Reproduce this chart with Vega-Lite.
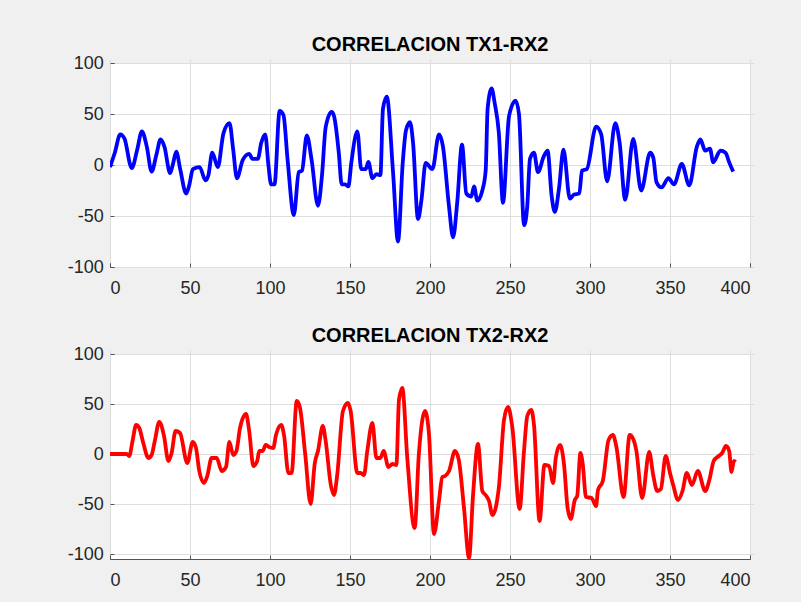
{
  "$schema": "https://vega.github.io/schema/vega-lite/v6.json",
  "background": "#f0f0f0",
  "padding": {"left": 66, "top": 34, "right": 50, "bottom": 40},
  "spacing": 27,
  "config": {
    "font": "Liberation Sans",
    "view": {"stroke": "#555555", "strokeWidth": 1, "fill": "white"},
    "axis": {
      "domain": false,
      "grid": true,
      "gridColor": "#dedede",
      "gridWidth": 1,
      "ticks": true,
      "tickColor": "#555555",
      "tickSize": 4,
      "offset": -4,
      "labelFontSize": 18,
      "labelColor": "#262626",
      "labelFont": "Liberation Sans",
      "labelExpr": "datum.value + ''",
      "title": null
    },
    "axisX": {"labelPadding": 12.5},
    "axisY": {"labelPadding": 6.7},
    "title": {"fontSize": 20, "fontWeight": "bold", "color": "#000000", "font": "Liberation Sans", "offset": -1}
  },
  "datasets": {
    "tx1": [
      {"x": 0, "y": -2}, {"x": 3, "y": 12}, {"x": 6.4, "y": 30}, {"x": 9, "y": 26}, {"x": 13.6, "y": -3},
      {"x": 17, "y": 15}, {"x": 19.9, "y": 33}, {"x": 23, "y": 18}, {"x": 26, "y": -6.5}, {"x": 29, "y": 10},
      {"x": 31.6, "y": 25}, {"x": 34, "y": 18}, {"x": 37.6, "y": -8}, {"x": 39.5, "y": 2}, {"x": 41.4, "y": 13},
      {"x": 44, "y": -5}, {"x": 47.6, "y": -28}, {"x": 49.5, "y": -20}, {"x": 51.8, "y": -4}, {"x": 56, "y": -2},
      {"x": 59.7, "y": -15}, {"x": 61.5, "y": -10}, {"x": 63.9, "y": 12}, {"x": 67.4, "y": -2}, {"x": 70.9, "y": 31},
      {"x": 74.7, "y": 41}, {"x": 77, "y": 15}, {"x": 79.3, "y": -13}, {"x": 83, "y": 5}, {"x": 87, "y": 11},
      {"x": 89, "y": 6}, {"x": 92.4, "y": 6}, {"x": 94.5, "y": 21.5}, {"x": 97, "y": 30}, {"x": 99, "y": 0},
      {"x": 100.7, "y": -19}, {"x": 102.8, "y": -19}, {"x": 106, "y": 53}, {"x": 108.4, "y": 49}, {"x": 111, "y": 5},
      {"x": 114.9, "y": -49}, {"x": 118, "y": -7}, {"x": 120, "y": -5.5}, {"x": 123, "y": 29}, {"x": 126, "y": 5},
      {"x": 130, "y": -40}, {"x": 132.5, "y": -10}, {"x": 134.8, "y": 37}, {"x": 138.5, "y": 52}, {"x": 140, "y": 48},
      {"x": 143, "y": 12}, {"x": 144.8, "y": -19}, {"x": 147, "y": -19}, {"x": 149, "y": -21}, {"x": 150.8, "y": 2},
      {"x": 154.6, "y": 33}, {"x": 157, "y": -4}, {"x": 159.8, "y": -4}, {"x": 161.5, "y": 3}, {"x": 164, "y": -13},
      {"x": 166.5, "y": -9}, {"x": 169, "y": -10}, {"x": 170.6, "y": 55}, {"x": 173, "y": 67}, {"x": 176.9, "y": -7},
      {"x": 180, "y": -75}, {"x": 183, "y": 3}, {"x": 185, "y": 34}, {"x": 187.5, "y": 42}, {"x": 189.4, "y": 22},
      {"x": 192.5, "y": -53}, {"x": 194.6, "y": -35}, {"x": 197.3, "y": 2}, {"x": 201.5, "y": -4}, {"x": 205.6, "y": 30},
      {"x": 208, "y": 19}, {"x": 211.9, "y": -41}, {"x": 214.4, "y": -71}, {"x": 217, "y": -37}, {"x": 220, "y": 20},
      {"x": 222.7, "y": -28}, {"x": 225.8, "y": -31}, {"x": 227.5, "y": -21}, {"x": 229.6, "y": -35}, {"x": 232.7, "y": -25},
      {"x": 234.8, "y": -5.5}, {"x": 236, "y": 55}, {"x": 238.5, "y": 75}, {"x": 240.4, "y": 61}, {"x": 243, "y": 32},
      {"x": 245.6, "y": -37}, {"x": 249.4, "y": 48}, {"x": 253.5, "y": 63}, {"x": 255.6, "y": 50}, {"x": 258.8, "y": -59},
      {"x": 260.8, "y": -40}, {"x": 262.5, "y": 6}, {"x": 265, "y": 12}, {"x": 267.5, "y": -7}, {"x": 271, "y": 8},
      {"x": 273.5, "y": 14}, {"x": 276, "y": -30}, {"x": 278, "y": -46}, {"x": 280.7, "y": -22}, {"x": 283.4, "y": 15},
      {"x": 287.4, "y": -33}, {"x": 290, "y": -29}, {"x": 293.3, "y": -28}, {"x": 295, "y": -5.5}, {"x": 298, "y": -4},
      {"x": 303.8, "y": 37.6}, {"x": 307, "y": 30}, {"x": 310.7, "y": -16}, {"x": 315.8, "y": 41}, {"x": 318.5, "y": 22},
      {"x": 322, "y": -34}, {"x": 327, "y": 25.5}, {"x": 332, "y": -25}, {"x": 337.6, "y": 12}, {"x": 339.5, "y": 7.5},
      {"x": 341.6, "y": -17}, {"x": 344.7, "y": -22}, {"x": 349, "y": -13}, {"x": 352.5, "y": -19}, {"x": 357.4, "y": 1},
      {"x": 362, "y": -20}, {"x": 366.8, "y": 18}, {"x": 369, "y": 25}, {"x": 372, "y": 14}, {"x": 375, "y": 16},
      {"x": 377, "y": 2.6}, {"x": 381.5, "y": 14}, {"x": 384.7, "y": 12}, {"x": 387, "y": 2.6}, {"x": 389.5, "y": -6.5}
    ],
    "tx2": [
      {"x": 0, "y": 0}, {"x": 10.4, "y": 0}, {"x": 12, "y": -2}, {"x": 14.2, "y": 14}, {"x": 16.3, "y": 29},
      {"x": 18.3, "y": 26}, {"x": 20.8, "y": 11}, {"x": 24, "y": -4}, {"x": 26, "y": -1}, {"x": 28, "y": 13},
      {"x": 30.8, "y": 32}, {"x": 33.75, "y": 18}, {"x": 36.5, "y": -7}, {"x": 38.5, "y": 1}, {"x": 41, "y": 23},
      {"x": 43.75, "y": 21}, {"x": 48.3, "y": -9}, {"x": 51.7, "y": 12}, {"x": 53.75, "y": 6}, {"x": 55.8, "y": -17},
      {"x": 58.75, "y": -29}, {"x": 60.8, "y": -22}, {"x": 63.5, "y": -4}, {"x": 66.7, "y": -4}, {"x": 69.8, "y": -17},
      {"x": 72.5, "y": -13}, {"x": 74.6, "y": 12}, {"x": 77, "y": -1}, {"x": 79, "y": 3}, {"x": 81.25, "y": 26},
      {"x": 85, "y": 40}, {"x": 87, "y": 23}, {"x": 89.6, "y": -12}, {"x": 92, "y": -7}, {"x": 93.3, "y": 3},
      {"x": 95.4, "y": 3}, {"x": 97.3, "y": 9}, {"x": 99.4, "y": 7}, {"x": 102, "y": 6}, {"x": 103.75, "y": 19},
      {"x": 107, "y": 29}, {"x": 108.75, "y": 19}, {"x": 111.5, "y": -19}, {"x": 113.5, "y": -19}, {"x": 116.7, "y": 53},
      {"x": 118.75, "y": 46}, {"x": 122, "y": 0}, {"x": 125.4, "y": -50}, {"x": 128, "y": -9}, {"x": 130, "y": 3},
      {"x": 133, "y": 28}, {"x": 134.8, "y": 13}, {"x": 138, "y": -31}, {"x": 140, "y": -41}, {"x": 142, "y": -21},
      {"x": 145.6, "y": 43}, {"x": 148.75, "y": 51}, {"x": 150.4, "y": 43}, {"x": 154.6, "y": -19}, {"x": 156.7, "y": -19},
      {"x": 158.75, "y": -21}, {"x": 160.8, "y": 3}, {"x": 164, "y": 31}, {"x": 166.5, "y": -4}, {"x": 169, "y": -4},
      {"x": 171, "y": 3}, {"x": 174, "y": -13}, {"x": 176.5, "y": -10}, {"x": 179, "y": -11}, {"x": 180.6, "y": 54},
      {"x": 182.7, "y": 66}, {"x": 185.8, "y": -4}, {"x": 190.4, "y": -74}, {"x": 193, "y": -1}, {"x": 195.2, "y": 34},
      {"x": 196.9, "y": 43}, {"x": 199.4, "y": 19}, {"x": 202.5, "y": -80}, {"x": 205.6, "y": -47}, {"x": 207.7, "y": -23},
      {"x": 209.4, "y": -22}, {"x": 211.9, "y": -17}, {"x": 215.6, "y": 3}, {"x": 218, "y": -6}, {"x": 221.25, "y": -54},
      {"x": 224.4, "y": -104}, {"x": 226.9, "y": -41}, {"x": 230, "y": 10}, {"x": 232.7, "y": -37}, {"x": 234.8, "y": -41},
      {"x": 236.9, "y": -47}, {"x": 239, "y": -61}, {"x": 243, "y": -34}, {"x": 246.25, "y": 34}, {"x": 248.75, "y": 47},
      {"x": 251.5, "y": 26}, {"x": 256, "y": -55}, {"x": 258.75, "y": 3}, {"x": 260.8, "y": 38}, {"x": 263.3, "y": 44},
      {"x": 265, "y": 29}, {"x": 268.5, "y": -67}, {"x": 271.5, "y": -11}, {"x": 274.4, "y": -12}, {"x": 277, "y": -29},
      {"x": 278.6, "y": -4}, {"x": 281.3, "y": 9}, {"x": 283.8, "y": -11}, {"x": 286, "y": -54}, {"x": 288, "y": -65},
      {"x": 290.5, "y": -46}, {"x": 292, "y": -42}, {"x": 294, "y": 1}, {"x": 295.4, "y": -9}, {"x": 297.5, "y": -43},
      {"x": 301, "y": -44}, {"x": 303.8, "y": -52}, {"x": 305, "y": -36}, {"x": 308, "y": -27}, {"x": 311.6, "y": 14},
      {"x": 314.3, "y": 19}, {"x": 316.4, "y": 8}, {"x": 321, "y": -43}, {"x": 324.8, "y": 19}, {"x": 327, "y": 15},
      {"x": 329, "y": 3}, {"x": 332.6, "y": -44}, {"x": 337, "y": 2}, {"x": 339.5, "y": -21}, {"x": 342, "y": -37},
      {"x": 344.3, "y": -35}, {"x": 347.3, "y": -2}, {"x": 350, "y": -19}, {"x": 352, "y": -31}, {"x": 355, "y": -46},
      {"x": 357.8, "y": -37}, {"x": 360.5, "y": -19}, {"x": 363.7, "y": -31}, {"x": 367.4, "y": -17}, {"x": 372, "y": -37},
      {"x": 374.6, "y": -26}, {"x": 377.3, "y": -7}, {"x": 380.5, "y": -2}, {"x": 382.6, "y": 1}, {"x": 385, "y": 8},
      {"x": 387, "y": 3}, {"x": 388.4, "y": -18}, {"x": 390, "y": -7}, {"x": 391, "y": -8}
    ]
  },
  "vconcat": [
    {
      "title": "CORRELACION TX1-RX2",
      "width": 640,
      "height": 204,
      "data": {"name": "tx1"},
      "mark": {"type": "line", "color": "#0000ff", "strokeWidth": 3.8, "clip": true, "interpolate": "monotone"},
      "encoding": {
        "x": {"field": "x", "type": "quantitative", "scale": {"domain": [0, 400], "nice": false, "zero": false},
              "axis": {"values": [0, 50, 100, 150, 200, 250, 300, 350, 400]}},
        "y": {"field": "y", "type": "quantitative", "scale": {"domain": [-100, 100], "nice": false},
              "axis": {"values": [-100, -50, 0, 50, 100]}}
      }
    },
    {
      "title": "CORRELACION TX2-RX2",
      "width": 640,
      "height": 205,
      "data": {"name": "tx2"},
      "mark": {"type": "line", "color": "#ff0000", "strokeWidth": 3.8, "clip": true, "interpolate": "monotone"},
      "encoding": {
        "x": {"field": "x", "type": "quantitative", "scale": {"domain": [0, 400], "nice": false, "zero": false},
              "axis": {"values": [0, 50, 100, 150, 200, 250, 300, 350, 400]}},
        "y": {"field": "y", "type": "quantitative", "scale": {"domain": [-105, 100], "nice": false},
              "axis": {"values": [-100, -50, 0, 50, 100]}}
      }
    }
  ]
}
